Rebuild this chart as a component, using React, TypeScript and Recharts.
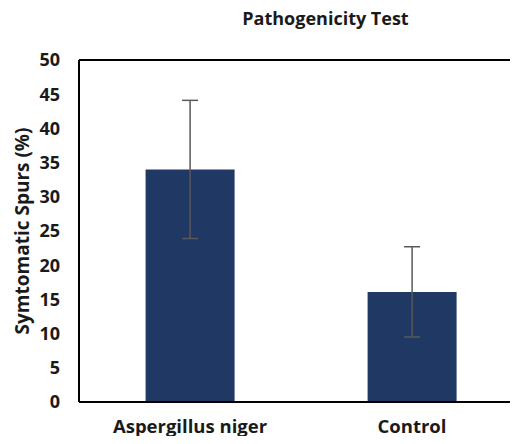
import React from "react";
import { BarChart, Bar, XAxis, YAxis, ErrorBar, ReferenceLine } from "recharts";

const categories = ["Aspergillus niger", "Control"];
const means = [34.0, 16.1];
const errors = [10.1, 6.6];
const yTicks = [0, 5, 10, 15, 20, 25, 30, 35, 40, 45, 50];

const data = categories.map((name, i) => ({ name, value: means[i], err: errors[i] }));

const FONT = "'Open Sans', sans-serif";

const YLabel = () => (
  <text
    x={22}
    y={231}
    transform="rotate(-90 22 231)"
    textAnchor="middle"
    dominantBaseline="central"
    style={{ fontFamily: FONT, fontWeight: 700, fontSize: 19, fill: "#1a1a1a" }}
  >
    Symtomatic Spurs (%)
  </text>
);

export default function App() {
  return (
    <div style={{ margin: -8, width: 518, height: 444, overflow: "hidden", position: "relative", background: "#fff" }}>
      <div
        style={{
          position: "absolute",
          left: 0,
          width: 651,
          top: 7,
          textAlign: "center",
          fontFamily: FONT,
          fontWeight: 700,
          fontSize: 18,
          color: "#1a1a1a",
          lineHeight: "22px",
        }}
      >
        Pathogenicity Test
      </div>
      <BarChart
        width={523}
        height={444}
        data={data}
        margin={{ top: 60, right: 0, bottom: 0, left: 0 }}
        barCategoryGap="30%"
      >
        <XAxis
          dataKey="name"
          height={42}
          axisLine={{ stroke: "#000", strokeWidth: 2 }}
          tickLine={false}
          tickSize={0}
          tickMargin={18}
          tick={{ fontFamily: FONT, fontWeight: 700, fontSize: 18.5, fill: "#1a1a1a" }}
        />
        <YAxis
          width={79}
          domain={[0, 50]}
          ticks={yTicks}
          interval={0}
          axisLine={{ stroke: "#000", strokeWidth: 2 }}
          tickLine={false}
          tickSize={0}
          tickMargin={19}
          tick={{ fontFamily: FONT, fontWeight: 700, fontSize: 18, fill: "#1a1a1a" }}
          label={{ content: () => <YLabel /> }}
        />
        <ReferenceLine y={50} stroke="#000" strokeWidth={2} ifOverflow="visible" />
        <Bar dataKey="value" fill="#203864" isAnimationActive={false}>
          <ErrorBar dataKey="err" width={8} stroke="#595959" strokeWidth={1.5} />
        </Bar>
      </BarChart>
    </div>
  );
}
